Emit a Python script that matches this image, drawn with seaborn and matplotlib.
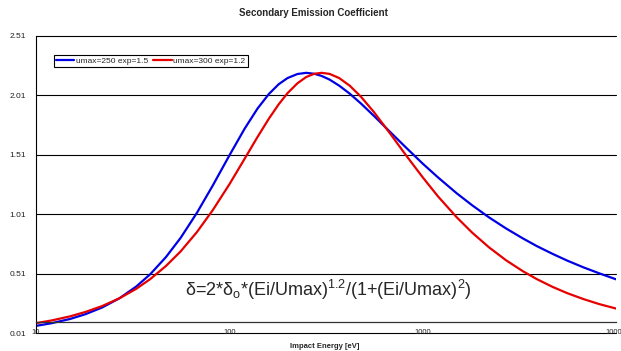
import pandas as pd
import seaborn as sns
import matplotlib.pyplot as plt

# values (impact energy in eV, coefficient)
energy = [10, 12, 15, 18, 22, 27, 33, 39, 47, 56, 68, 82, 100, 120, 140, 160,
          180, 200, 225, 250, 275, 300, 330, 370, 420, 480, 560, 680, 820,
          1000, 1200, 1500, 1800, 2200, 2700, 3300, 3900, 4700, 5600, 6800,
          8200, 10000]
blue_250 = [0.070, 0.092, 0.128, 0.168, 0.225, 0.302, 0.401, 0.505, 0.649,
            0.811, 1.022, 1.250, 1.504, 1.730, 1.900, 2.021, 2.104, 2.156,
            2.190, 2.200, 2.192, 2.174, 2.143, 2.092, 2.024, 1.941, 1.837,
            1.701, 1.571, 1.436, 1.320, 1.186, 1.086, 0.984, 0.890, 0.806,
            0.741, 0.676, 0.619, 0.562, 0.512, 0.462]
red_300 = [0.093, 0.115, 0.150, 0.187, 0.237, 0.302, 0.382, 0.464, 0.574,
           0.697, 0.860, 1.043, 1.261, 1.477, 1.661, 1.813, 1.935, 2.029,
           2.112, 2.165, 2.192, 2.200, 2.191, 2.156, 2.091, 1.998, 1.869,
           1.687, 1.506, 1.321, 1.160, 0.984, 0.856, 0.732, 0.622, 0.530,
           0.463, 0.398, 0.345, 0.295, 0.253, 0.216]
series_names = ["umax=250 exp=1.5", "umax=300 exp=1.2"]
y_ticks = [0.01, 0.51, 1.01, 1.51, 2.01, 2.51]
x_ticks = [10, 100, 1000, 10000]

df = pd.DataFrame({
    "energy": energy * 2,
    "delta": blue_250 + red_300,
    "series": [series_names[0]] * len(energy) + [series_names[1]] * len(energy),
})

sns.set_style("white")
plt.rcParams["font.family"] = ["Liberation Sans", "DejaVu Sans"]
plt.rcParams["mathtext.fontset"] = "custom"
plt.rcParams["mathtext.rm"] = "Liberation Sans"
plt.rcParams["mathtext.default"] = "regular"

fig = plt.figure(figsize=(6.21, 3.51), dpi=100)
ax = fig.add_axes([36 / 621, 1 - 333 / 351, 580 / 621, 297 / 351])

sns.lineplot(data=df, x="energy", y="delta", hue="series",
             palette=["#0000e6", "#e60000"], linewidth=1.6, ax=ax)

ax.set_xscale("log")
ax.set_xlim(10, 10000)
ax.set_ylim(0.01, 2.51)
ax.set_yticks(y_ticks)
ax.set_yticklabels([f"{v:.2f}" for v in y_ticks])
ax.set_xticks(x_ticks)
ax.set_xticklabels([str(v) for v in x_ticks])
ax.minorticks_off()

# horizontal gridlines, the bottom one runs through the x tick labels
for v in y_ticks:
    ax.axhline(v, color="black", lw=0.8, zorder=0, clip_on=False)

for side in ["right", "top"]:
    ax.spines[side].set_visible(False)
ax.spines["left"].set_color("black")
ax.spines["left"].set_linewidth(0.8)
ax.spines["bottom"].set_position(("data", 0.1))
ax.spines["bottom"].set_color("#333333")
ax.spines["bottom"].set_linewidth(0.9)

ax.tick_params(axis="y", length=0, pad=7, labelsize=6, colors="#222222")
ax.tick_params(axis="x", direction="in", length=2.5, width=0.6, pad=4.5,
               labelsize=5.5, colors="#222222")

ax.set_xlabel("")
ax.set_ylabel("")

ax.legend(loc="upper left", bbox_to_anchor=(0.031, 0.935), ncol=2,
          fontsize=6, frameon=True, fancybox=False, framealpha=1,
          edgecolor="black", borderpad=0.25, handlelength=2.2,
          handletextpad=0.2, columnspacing=0.6, borderaxespad=0)
ax.get_legend().get_frame().set_linewidth(0.8)

ax.text(59, 0.369,
        r"$\delta$=2*$\delta_o$*(Ei/Umax)$^{1.2}$/(1+(Ei/Umax)$^{2}$)",
        fontsize=13, va="center", ha="left")

fig.text(313 / 621, 1 - 13 / 351, "Secondary Emission Coefficient",
         ha="center", va="center", fontsize=7, fontweight="bold")
fig.text(325 / 621, 1 - 347 / 351, "Impact Energy [eV]",
         ha="center", va="center", fontsize=5.5, fontweight="bold")

fig.savefig("out.png", dpi=100)
